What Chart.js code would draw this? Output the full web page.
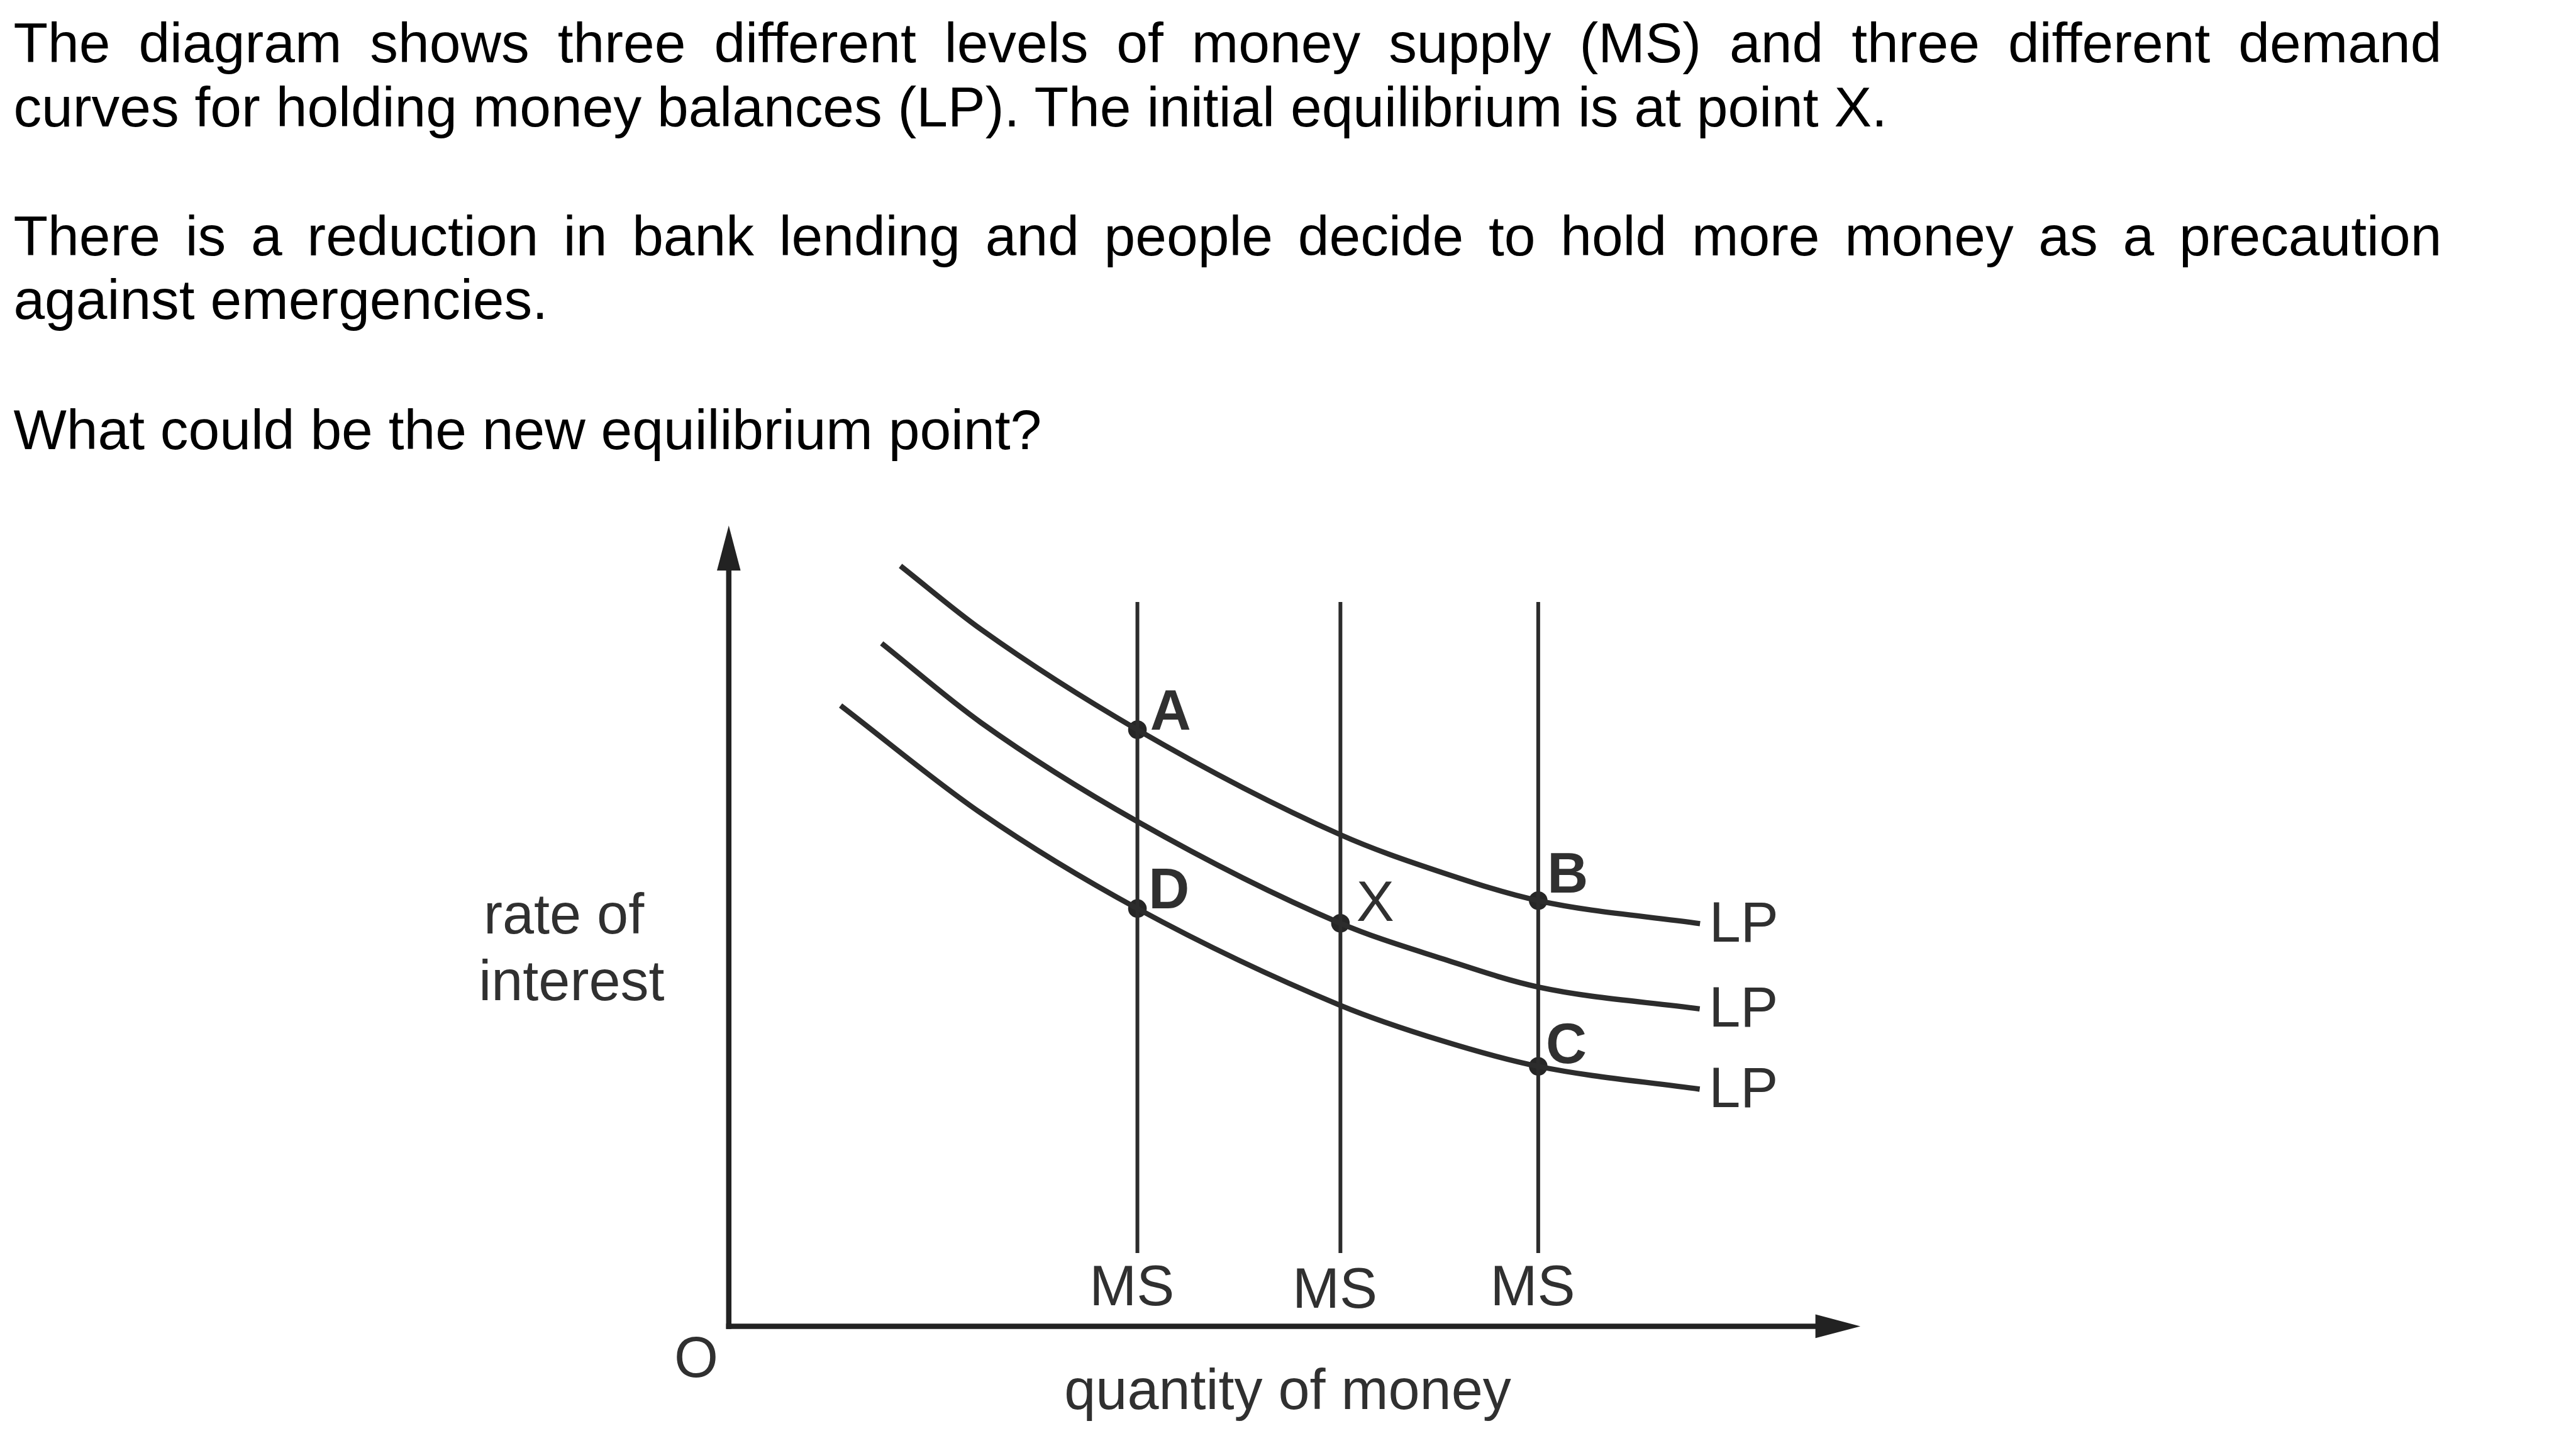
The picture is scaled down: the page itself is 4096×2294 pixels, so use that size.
<!DOCTYPE html>
<html>
<head>
<meta charset="utf-8">
<script src="https://cdn.jsdelivr.net/npm/chart.js@4.4.1/dist/chart.umd.min.js"></script>
<style>
  html, body { margin: 0; padding: 0; background: #ffffff; overflow: hidden; }
  body { width: 4096px; height: 2294px; position: relative; }
  #c { position: absolute; left: 0; top: 0; }
  .q {
    position: absolute; left: 21.4px; width: 3861px;
    font-family: "Liberation Sans", Arial, sans-serif; font-size: 89.4px;
    line-height: 99.86px; color: #000; white-space: normal; z-index: 2;
  }
  .j { text-align: justify; text-align-last: justify; }
</style>
</head>
<body>
<div class="q j" style="top:18.5px">The diagram shows three different levels of money supply (MS) and three different demand</div>
<div class="q" style="top:120.5px">curves for holding money balances (LP). The initial equilibrium is at point X.</div>
<div class="q j" style="top:325.7px">There is a reduction in bank lending and people decide to hold more money as a precaution</div>
<div class="q" style="top:427.1px">against emergencies.</div>
<div class="q" style="top:633.8px">What could be the new equilibrium point?</div>
<canvas id="c" width="4096" height="2294"></canvas>
<script>
// ---- data (quantity of money 0-100, rate of interest 0-100) ----
const lpHighQ = [15.17, 22.30, 36.11, 54.05, 62.94, 71.53, 85.83];
const lpHighR = [94.97, 87.03, 74.51, 61.39, 56.72, 53.16, 50.29];
const lpMidQ  = [13.51, 22.30, 36.11, 54.05, 62.94, 71.53, 85.80];
const lpMidR  = [85.29, 75.38, 63.04, 50.33, 45.96, 42.37, 39.64];
const lpLowQ  = [9.88, 22.30, 36.11, 54.05, 62.94, 71.53, 85.80];
const lpLowR  = [77.53, 64.08, 52.17, 40.08, 35.70, 32.46, 29.61];
const msLevels = [36.11, 54.05, 71.53];
const msRange  = [9.15, 90.46];
const pointLabels = ['A', 'D', 'X', 'B', 'C'];
const pointQ = [36.11, 36.11, 54.05, 71.53, 71.53];
const pointR = [74.51, 52.17, 50.33, 53.16, 32.46];
const lpLabels = ['LP', 'LP', 'LP'];
const msLabels = ['MS', 'MS', 'MS'];
const yTitle = ['rate of', 'interest'];
const xTitle = 'quantity of money';
const originLabel = 'O';

// ---- styles ----
const AXIS = '#222222', CURVE = '#2c2c2c', MSLINE = '#2c2c2c', TEXT = '#303030';
const FONT = '"Liberation Sans", Arial, sans-serif';

function zip(qs, rs) { return qs.map((q, i) => ({ x: q, y: rs[i] })); }

const curveStyle = {
  type: 'line', borderColor: CURVE, borderWidth: 8.4, pointRadius: 0,
  cubicInterpolationMode: 'monotone', fill: false, borderCapStyle: 'butt'
};

const datasets = [
  Object.assign({ data: zip(lpHighQ, lpHighR) }, curveStyle),
  Object.assign({ data: zip(lpMidQ, lpMidR) }, curveStyle),
  Object.assign({ data: zip(lpLowQ, lpLowR) }, curveStyle)
];
msLevels.forEach(q => {
  datasets.push({
    type: 'line', data: [{ x: q, y: msRange[0] }, { x: q, y: msRange[1] }],
    borderColor: MSLINE, borderWidth: 6.0, pointRadius: 0, tension: 0, borderCapStyle: 'butt'
  });
});
datasets.push({
  type: 'scatter', data: zip(pointQ, pointR),
  backgroundColor: '#262626', borderWidth: 0, pointRadius: 14.8, pointHoverRadius: 14.8
});

const labelStyle = {
  A: { dx: 20.1, dy: 0, w: 'bold' },
  D: { dx: 17.6, dy: 0, w: 'bold' },
  X: { dx: 25.4, dy: -3.9, w: 'normal' },
  B: { dx: 14.4, dy: -12.4, w: 'bold' },
  C: { dx: 12.2, dy: -5.7, w: 'bold' }
};

const diagramPlugin = {
  id: 'diagram',
  beforeDatasetsDraw(chart) {
    const ctx = chart.ctx, a = chart.chartArea;
    ctx.save();
    ctx.strokeStyle = AXIS; ctx.fillStyle = AXIS; ctx.lineWidth = 8.5; ctx.lineCap = 'butt';
    const head = 71.5, half = 18.8;
    // y axis
    ctx.beginPath();
    ctx.moveTo(a.left, a.bottom + 4.25);
    ctx.lineTo(a.left, a.top + head - 2);
    ctx.stroke();
    ctx.beginPath();
    ctx.moveTo(a.left, a.top);
    ctx.lineTo(a.left - half, a.top + head);
    ctx.lineTo(a.left + half, a.top + head);
    ctx.closePath(); ctx.fill();
    // x axis
    ctx.beginPath();
    ctx.moveTo(a.left - 4.25, a.bottom);
    ctx.lineTo(a.right - head + 2, a.bottom);
    ctx.stroke();
    ctx.beginPath();
    ctx.moveTo(a.right, a.bottom);
    ctx.lineTo(a.right - head, a.bottom - half);
    ctx.lineTo(a.right - head, a.bottom + half);
    ctx.closePath(); ctx.fill();
    ctx.restore();
  },
  afterDatasetsDraw(chart) {
    const ctx = chart.ctx, a = chart.chartArea;
    const xs = chart.scales.x, ys = chart.scales.y;
    ctx.save();
    ctx.fillStyle = TEXT;
    ctx.textBaseline = 'alphabetic';
    // point labels
    pointLabels.forEach((t, i) => {
      const s = labelStyle[t];
      ctx.font = s.w + ' 90px ' + FONT;
      ctx.textAlign = 'left';
      ctx.fillText(t, xs.getPixelForValue(pointQ[i]) + s.dx, ys.getPixelForValue(pointR[i]) + s.dy);
    });
    // LP labels at curve ends
    ctx.font = 'normal 90px ' + FONT;
    const ends = [
      [lpHighQ[lpHighQ.length - 1], lpHighR[lpHighR.length - 1]],
      [lpMidQ[lpMidQ.length - 1], lpMidR[lpMidR.length - 1]],
      [lpLowQ[lpLowQ.length - 1], lpLowR[lpLowR.length - 1]]
    ];
    ends.forEach((e, i) => {
      ctx.textAlign = 'left';
      ctx.fillText(lpLabels[i], xs.getPixelForValue(e[0]) + 14.6, ys.getPixelForValue(e[1]) + 28.3);
    });
    // MS labels under supply lines
    const msDy = [82.9, 86.8, 82.9];
    msLevels.forEach((q, i) => {
      ctx.textAlign = 'center';
      ctx.fillText(msLabels[i], xs.getPixelForValue(q) - 8.8, ys.getPixelForValue(msRange[0]) + msDy[i]);
    });
    // axis titles
    ctx.textAlign = 'left';
    ctx.fillText(yTitle[0], a.left - 389.8, a.bottom - 624.8);
    ctx.fillText(yTitle[1], a.left - 397.5, a.bottom - 518.5);
    ctx.textAlign = 'center';
    ctx.fillText(originLabel, a.left - 51.7, a.bottom + 80.5);
    ctx.fillText(xTitle, a.left + 888.7, a.bottom + 131.2);
    ctx.restore();
  }
};

new Chart(document.getElementById('c'), {
  data: { datasets },
  options: {
    responsive: false, maintainAspectRatio: false, devicePixelRatio: 1, animation: false,
    layout: { padding: { left: 1158.8, right: 1137.85, top: 835.6, bottom: 185.6 } },
    plugins: { legend: { display: false }, tooltip: { enabled: false }, title: { display: false } },
    events: [],
    scales: {
      x: { type: 'linear', min: 0, max: 100, display: false },
      y: { type: 'linear', min: 0, max: 100, display: false }
    }
  },
  plugins: [diagramPlugin]
});
</script>
</body>
</html>
